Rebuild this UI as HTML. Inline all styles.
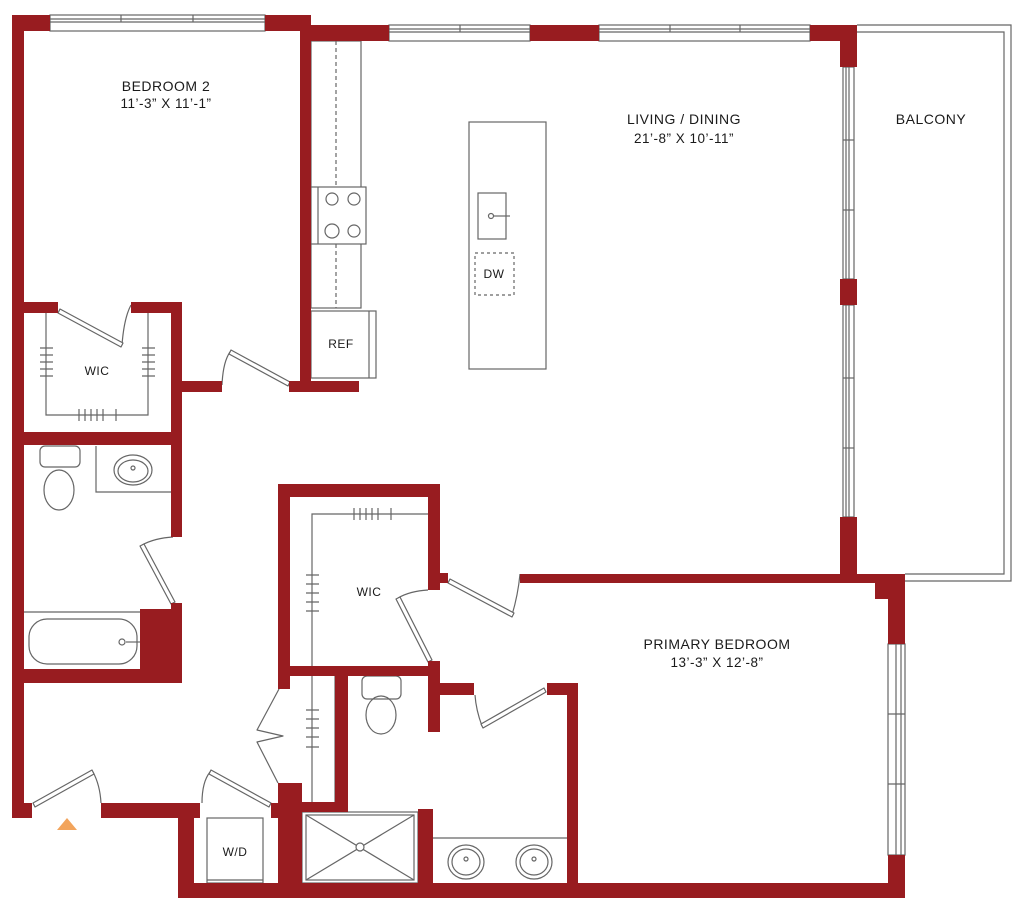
<!DOCTYPE html>
<html><head><meta charset="utf-8"><style>
html,body{margin:0;padding:0;background:#fff;}
svg{display:block}
text{font-family:"Liberation Sans",sans-serif;fill:#1a1a1a;text-anchor:middle;letter-spacing:0.5px}
</style></head><body>
<svg width="1024" height="915" viewBox="0 0 1024 915" xmlns="http://www.w3.org/2000/svg">
<g fill="none" stroke="#666" stroke-width="1.2">
<rect x="50" y="15" width="215" height="16"/><line x1="50" y1="19" x2="265" y2="19"/><line x1="50" y1="22" x2="265" y2="22"/>
<line x1="121" y1="15" x2="121" y2="22"/><line x1="193" y1="15" x2="193" y2="22"/>
<rect x="389" y="25" width="141" height="16"/><line x1="389" y1="29" x2="530" y2="29"/><line x1="389" y1="32" x2="530" y2="32"/>
<line x1="460" y1="25" x2="460" y2="32"/>
<rect x="599" y="25" width="211" height="16"/><line x1="599" y1="29" x2="810" y2="29"/><line x1="599" y1="32" x2="810" y2="32"/>
<line x1="670" y1="25" x2="670" y2="32"/><line x1="740" y1="25" x2="740" y2="32"/>
<rect x="843" y="67" width="11" height="212"/><line x1="846" y1="67" x2="846" y2="279"/><line x1="849" y1="67" x2="849" y2="279"/>
<line x1="843" y1="140" x2="854" y2="140"/><line x1="843" y1="210" x2="854" y2="210"/>
<rect x="843" y="305" width="11" height="212"/><line x1="846" y1="305" x2="846" y2="517"/><line x1="849" y1="305" x2="849" y2="517"/>
<line x1="843" y1="378" x2="854" y2="378"/><line x1="843" y1="448" x2="854" y2="448"/>
<polyline points="857,25 1011,25 1011,581 905,581"/>
<polyline points="857,32 1004,32 1004,574 905,574"/>
<rect x="888" y="644" width="17" height="211"/><line x1="896" y1="644" x2="896" y2="855"/><line x1="901" y1="644" x2="901" y2="855"/>
<line x1="888" y1="714" x2="905" y2="714"/><line x1="888" y1="784" x2="905" y2="784"/>
<rect x="311" y="41" width="50" height="267"/>
<line x1="336" y1="41" x2="336" y2="308" stroke-dasharray="4,3"/>
<rect x="311" y="187" width="55" height="57" fill="#fff"/>
<line x1="318" y1="187" x2="318" y2="244"/>
<circle cx="332" cy="199" r="6"/><circle cx="354" cy="199" r="6"/><circle cx="332" cy="231" r="7"/><circle cx="354" cy="231" r="6"/>
<rect x="311" y="311" width="65" height="67"/><line x1="369" y1="311" x2="369" y2="378"/>
<rect x="469" y="122" width="77" height="247"/>
<rect x="478" y="193" width="28" height="46"/>
<circle cx="491" cy="216" r="2.5"/><line x1="494" y1="216" x2="510" y2="216"/>
<rect x="475" y="253" width="39" height="42" stroke-dasharray="3,3"/>
<polyline points="46,313 46,415 148,415 148,313"/>
<rect x="40" y="446" width="40" height="21" rx="5"/>
<ellipse cx="59" cy="490" rx="15" ry="20"/>
<polyline points="96,446 96,492 171,492"/>
<ellipse cx="133" cy="470" rx="19" ry="15"/><ellipse cx="133" cy="471" rx="15" ry="11"/>
<circle cx="133" cy="468" r="2"/>
<line x1="24" y1="612" x2="140" y2="612"/>
<rect x="29" y="619" width="108" height="45" rx="18"/>
<circle cx="122" cy="642" r="3"/><line x1="126" y1="642" x2="140" y2="642"/>
<polyline points="312,802 312,514 428,514"/>
<line x1="335" y1="676" x2="335" y2="802"/>
<rect x="362" y="676" width="39" height="23" rx="5"/>
<ellipse cx="381" cy="715" rx="15" ry="19"/>
<rect x="302" y="812" width="116" height="71"/><rect x="306" y="815" width="108" height="65"/>
<line x1="306" y1="815" x2="414" y2="880"/><line x1="414" y1="815" x2="306" y2="880"/>
<circle cx="360" cy="847" r="4" fill="#fff"/>
<line x1="433" y1="838" x2="567" y2="838"/>
<ellipse cx="466" cy="862" rx="18" ry="17"/><ellipse cx="466" cy="862" rx="14" ry="13"/><circle cx="466" cy="859" r="2"/>
<ellipse cx="534" cy="862" rx="18" ry="17"/><ellipse cx="534" cy="862" rx="14" ry="13"/><circle cx="534" cy="859" r="2"/>
<rect x="207" y="818" width="56" height="65"/><line x1="207" y1="880" x2="263" y2="880"/>
<path d="M40 348h13M40 355h13M40 362h13M40 369h13M40 376h13M142 348h13M142 355h13M142 362h13M142 369h13M142 376h13M79 409v12M85 409v12M91 409v12M97 409v12M103 409v12M116 409v12M354 508v12M360 508v12M366 508v12M372 508v12M378 508v12M391 508v12M306 575h13M306 584h13M306 593h13M306 602h13M306 611h13M306 710h13M306 719h13M306 728h13M306 737h13M306 747h13"/>
<path d="M122 345 Q124 318 131 305"/>
<path d="M222 385 Q223 362 230 352"/>
<path d="M142 545 Q155 538 173 537"/>
<path d="M93 772 Q100 785 101 803"/>
<path d="M202 803 Q202 782 210 772"/>
<path d="M398 598 Q410 591 428 590"/>
<path d="M512 615 Q518 595 520 574"/>
<path d="M482 726 Q476 710 475 695"/>
</g>
<g fill="#fff" stroke="#666" stroke-width="1.2" stroke-linejoin="round">
<polygon points="60,309 123,343 121,347 58,313"/>
<polygon points="231,350 290,382 288,386 229,354"/>
<polygon points="144,544 175,602 171,604 140,546"/>
<polygon points="33,803 92,770 94,774 35,807"/>
<polygon points="211,770 271,803 269,807 209,774"/>
<polygon points="400,597 432,660 428,662 396,599"/>
<polygon points="450,579 514,613 512,617 448,583"/>
<polygon points="481,724 544,688 546,692 483,728"/>
<polyline fill="none" points="279,689 257,730 283,736 257,742 278,783"/>
</g>
<g fill="#981c20">
<rect x="12" y="15" width="12" height="803"/>
<rect x="12" y="15" width="38" height="16"/>
<rect x="265" y="15" width="46" height="16"/>
<rect x="300" y="15" width="11" height="370"/>
<rect x="311" y="25" width="78" height="16"/>
<rect x="530" y="25" width="69" height="16"/>
<rect x="810" y="25" width="47" height="16"/>
<rect x="840" y="25" width="17" height="42"/>
<rect x="840" y="279" width="17" height="26"/>
<rect x="840" y="517" width="17" height="60"/>
<rect x="520" y="574" width="385" height="9"/>
<rect x="875" y="574" width="30" height="25"/>
<rect x="888" y="574" width="17" height="70"/>
<rect x="888" y="855" width="17" height="43"/>
<rect x="178" y="883" width="727" height="15"/>
<rect x="12" y="302" width="46" height="11"/>
<rect x="131" y="302" width="51" height="11"/>
<rect x="171" y="302" width="11" height="235"/>
<rect x="12" y="432" width="170" height="13"/>
<rect x="182" y="381" width="40" height="11"/>
<rect x="289" y="381" width="70" height="11"/>
<polygon points="171,603 182,603 182,683 12,683 12,669 140,669 140,609 171,609"/>
<rect x="12" y="803" width="20" height="15"/>
<rect x="101" y="803" width="99" height="15"/>
<rect x="178" y="803" width="16" height="95"/>
<rect x="278" y="484" width="162" height="13"/>
<rect x="278" y="484" width="12" height="205"/>
<rect x="428" y="484" width="12" height="106"/>
<rect x="428" y="573" width="20" height="10"/>
<rect x="278" y="666" width="162" height="10"/>
<rect x="428" y="661" width="12" height="71"/>
<rect x="428" y="683" width="46" height="12"/>
<rect x="547" y="683" width="31" height="12"/>
<rect x="567" y="683" width="11" height="210"/>
<rect x="335" y="676" width="13" height="136"/>
<rect x="290" y="802" width="58" height="10"/>
<rect x="271" y="803" width="19" height="15"/>
<rect x="278" y="783" width="24" height="115"/>
<rect x="418" y="809" width="15" height="89"/>
</g>
<polygon points="57,830 77,830 67,818" fill="#f2a45c"/>
<g font-size="14">
<text x="166" y="91">BEDROOM 2</text>
<text x="166" y="108" font-size="13.5" letter-spacing="0.9">11’-3” X 11’-1”</text>
<text x="684" y="124">LIVING / DINING</text>
<text x="684" y="143" font-size="13.5" letter-spacing="0.9">21’-8” X 10’-11”</text>
<text x="931" y="124">BALCONY</text>
<text x="717" y="649">PRIMARY BEDROOM</text>
<text x="717" y="667" font-size="13.5" letter-spacing="0.9">13’-3” X 12’-8”</text>
<text x="97" y="375" font-size="12">WIC</text>
<text x="369" y="596" font-size="12">WIC</text>
<text x="341" y="348" font-size="12">REF</text>
<text x="494" y="278" font-size="12">DW</text>
<text x="235" y="856" font-size="12">W/D</text>
</g>
</svg>
</body></html>
